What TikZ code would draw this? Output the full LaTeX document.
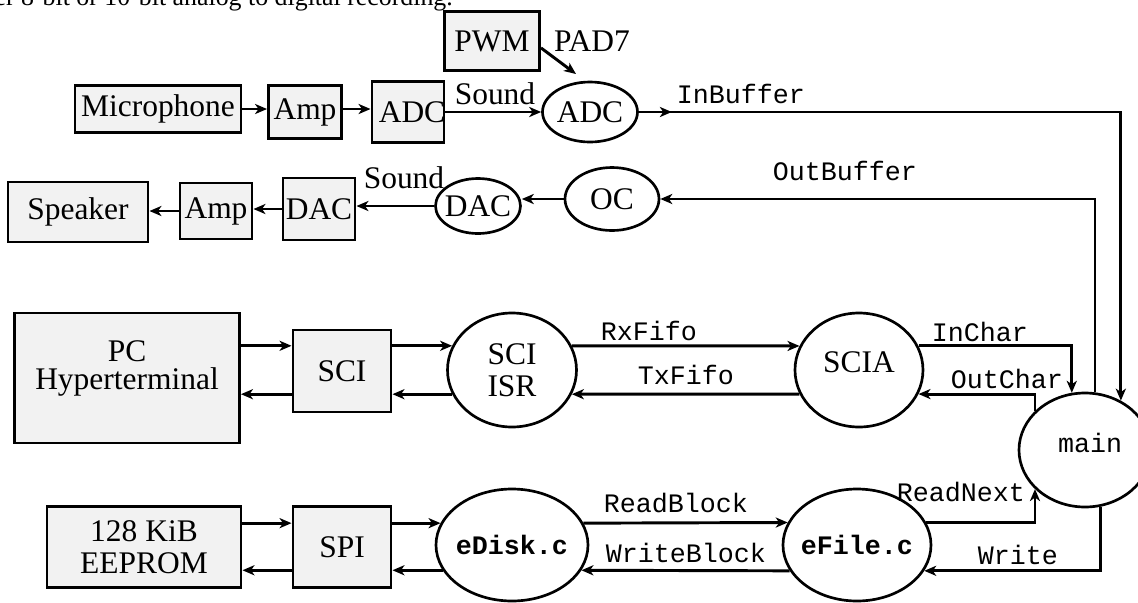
\documentclass[tikz,border=0pt]{standalone}
\usepackage{fontspec}
\setmainfont{Liberation Serif}
\setmonofont{Liberation Mono}
\usetikzlibrary{shapes.geometric,arrows.meta}

\tikzset{
  box/.style={draw, fill=gray!10, line width=1.1pt, inner sep=0pt},
  bub/.style={draw, ellipse, line width=1pt, inner sep=0pt},
  wh/.style 2 args={minimum width=#1*0.375pt, minimum height=#2*0.375pt},
  arr/.style={line width=1.1pt, -{Stealth[length=4.5pt,width=3.8pt,inset=1.3pt]}},
  sig/.style={font=\ttfamily}
}

\begin{document}
\begin{tikzpicture}[x=0.375pt, y=-0.375pt, font=\fontsize{11.8}{12}\selectfont]
    \useasboundingbox (0,0) rectangle (1138,602);

    \node[anchor=base west, inner sep=0pt, font=\fontsize{9.7}{11}\selectfont] (toptext) at (-6,5)
      {er 8-bit or 10-bit analog to digital recording.};

    % recording path
    \node[box, wh={95}{59}] (pwm) at (492,41) {PWM};
    \node (pad7) at (592,41) {PAD7};
    \coordinate (padin) at (576,74);
    \node[box, wh={166}{47}] (mic) at (158,109) {Microphone};
    \node[box, wh={73}{53}] (ampin) at (305,112) {Amp};
    \node[box, wh={72}{61}, label={[xshift=1.5pt]center:ADC}] (adcbox) at (408,112) {};
    \node[bub, wh={95}{60}, label=center:ADC] (adc) at (590,112) {};

    % playback path
    \node[box, wh={140}{60}] (spk) at (78,212) {Speaker};
    \node[box, wh={72}{56}] (ampout) at (216,211) {Amp};
    \node[box, wh={72}{62}] (dacbox) at (319,209) {DAC};
    \node[bub, wh={85}{55}, label=center:DAC] (dac) at (478,206) {};
    \node[bub, wh={94}{63}, label=center:OC] (oc) at (612,199) {};

    % serial port
    \node[box, wh={225}{130}, label={[align=center, yshift=3.6pt, font=\fontsize{11.8}{10.6}\selectfont]center:PC\\Hyperterminal}] (pc) at (127,378) {};
    \node[box, wh={98}{82}] (sci) at (342,371) {SCI};
    \node[bub, wh={129}{114}, label={[align=center]center:SCI\\ISR}] (isr) at (512,370) {};
    \node[bub, wh={128}{114}, label={[yshift=3pt]center:SCIA}] (scia) at (859,370) {};

    \node[bub, wh={132}{114}, label={[xshift=1.9pt, yshift=2.6pt, font=\ttfamily]center:main}] (main) at (1085,450) {};

    % eeprom file system
    \node[box, wh={194}{81}, label={[align=center]center:128 KiB\\EEPROM}] (eeprom) at (144,547) {};
    \node[box, wh={98}{81}] (spi) at (342,547) {SPI};
    \node[bub, wh={152}{112}, label={[font=\ttfamily\bfseries]center:eDisk.c}] (edisk) at (512,545) {};
    \node[bub, wh={148}{112}, label={[font=\ttfamily\bfseries]center:eFile.c}] (efile) at (857,545) {};

    \draw[arr] (pwm.-8) -- (padin);
    \draw[arr] (mic.east) -- (mic.east -| ampin.west);
    \draw[arr] (ampin.east |- mic.east) -- (adcbox.west |- mic.east);
    \draw[arr] (adcbox.east) -- (adcbox.east -| adc.west);
    \node (sndin) at (495,94) {Sound};
    \draw[arr] (adc.east) -- ++(33,0);
    \draw[arr] (adc.east) -| (main.54);
    \node[sig] (inbuf) at (741,94) {InBuffer};

    \draw[arr, line width=0.8pt] (main.80) |- (oc.east);
    \node[sig] (outbuf) at (845,171) {OutBuffer};
    \draw[arr] (oc.west) -- (oc.west -| dac.east);
    \draw[arr] (dac.west) -- (dac.west -| dacbox.east);
    \draw[arr] (dacbox.west) -- (dacbox.west -| ampout.east);
    \draw[arr] (ampout.west) -- (ampout.west -| spk.east);
    \node (sndout) at (404,178) {Sound};

    \draw[arr] (pc.east |- isr.158) -- (sci.west |- isr.158);
    \draw[arr] (sci.east |- isr.158) -- (isr.158);
    \draw[arr] (isr.22) -- (scia.158);
    \draw[arr] (scia.202) -- (isr.-22);
    \draw[arr] (isr.202) -- (sci.east |- isr.202);
    \draw[arr] (sci.west |- isr.202) -- (pc.east |- isr.202);
    \draw[arr] (scia.22) -| (main.103);
    \draw[arr] (main.142) |- (scia.-22);
    \node[sig] (rxfifo) at (649,331) {RxFifo};
    \node[sig] (txfifo) at (686,375) {TxFifo};
    \node[sig] (inchar) at (980,332) {InChar};
    \node[sig] (outchar) at (1007,379) {OutChar};

    \draw[arr] (eeprom.east |- edisk.163) -- (spi.west |- edisk.163);
    \draw[arr] (spi.east |- edisk.163) -- (edisk.163);
    \draw[arr] (edisk.17) -- (efile.162);
    \draw[arr] (efile.201) -- (edisk.-20);
    \draw[arr] (edisk.200) -- (spi.east |- edisk.200);
    \draw[arr] (spi.west |- edisk.200) -- (eeprom.east |- edisk.200);
    \draw[arr] (efile.18) -| (main.218);
    \draw[arr] (main.285) |- (efile.-21);
    \node[sig] (rdblk) at (676,503) {ReadBlock};
    \node[sig] (wrblk) at (686,553) {WriteBlock};
    \node[sig] (rdnext) at (961,492) {ReadNext};
    \node[sig] (wr) at (1018,555) {Write};

  \end{tikzpicture}
\end{document}
